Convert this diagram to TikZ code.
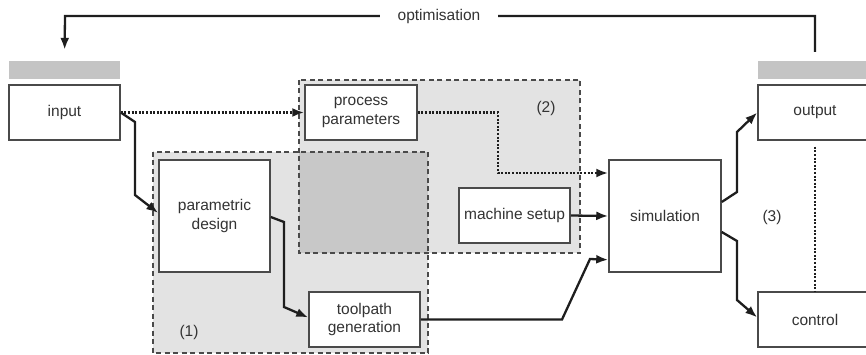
\documentclass[tikz,border=0pt]{standalone}
\usepackage{fontspec}
\setmainfont{Liberation Sans}
\usetikzlibrary{arrows.meta}
\definecolor{txt}{HTML}{333333}
\definecolor{ink}{HTML}{1E1E1E}
\definecolor{edge}{HTML}{4A4A4A}
\definecolor{zone}{HTML}{E3E3E3}
\definecolor{zonedark}{HTML}{C8C8C8}
\definecolor{barfill}{HTML}{C4C4C4}
\tikzset{
  box/.style={draw=edge, line width=1.5pt, fill=white, text=txt, align=center,
    inner sep=0pt, font=\fontsize{15.5}{18.5}\selectfont},
  bar/.style={fill=barfill, draw=none, inner sep=0pt},
  zoneborder/.style={draw=edge, line width=1.4pt, dash pattern=on 5pt off 3.5pt},
  flow/.style={draw=ink, line width=2.3pt, -{Latex[length=12pt,width=9pt]}},
  dotflow/.style={draw=ink, line width=2.3pt, dash pattern=on 2pt off 1.6pt,
    -{Latex[length=12pt,width=9pt]}},
  lbl/.style={text=txt, font=\fontsize{15.5}{18.5}\selectfont, inner sep=1pt}
}
\begin{document}
\begin{tikzpicture}[x=1pt,y=-1pt]
\useasboundingbox (0,0) rectangle (866,355);

% shaded zones (1) and (2) with their overlap
\fill[zone] (299,80) rectangle (580,253);
\fill[zone] (153,152) rectangle (428,353);
\fill[zonedark] (299,152) rectangle (428,253);
\draw[zoneborder] (299,80) rectangle (580,253);
\draw[zoneborder] (153,152) rectangle (428,353);

% nodes
\node[bar] (inbar) at (64.5,70) [minimum width=111pt, minimum height=18pt] {};
\node[box] (input) at (64.5,112.5) [minimum width=111pt, minimum height=55pt] {input};
\node[bar] (outbar) at (815,70) [minimum width=114pt, minimum height=18pt] {};
\node[box] (output) at (815,112.5) [minimum width=114pt, minimum height=55pt] {output};
\node[box] (control) at (815,319.5) [minimum width=114pt, minimum height=55pt] {control};
\node[box] (params) at (361,112.5) [minimum width=112pt, minimum height=55pt] {process\\parameters};
\node[box] (design) at (214.5,216) [minimum width=111pt, minimum height=112pt] {parametric\\design};
\node[box] (toolpath) at (364.5,319.5) [minimum width=111pt, minimum height=55pt] {toolpath\\generation};
\node[box] (machine) at (514.5,215.5) [minimum width=111pt, minimum height=55pt] {machine setup};
\node[box] (sim) at (665,216) [minimum width=112pt, minimum height=112pt] {simulation};

% zone labels
\node[lbl] (z1) at (189,332) {(1)};
\node[lbl] (z2) at (546,108) {(2)};
\node[lbl] (z3) at (772,217) {(3)};

% solid flows
\draw[flow] (input.east) -- (135,122) -- (135,195) -- ([yshift=3pt]design.west);
\draw[flow] ([yshift=-1pt]design.east) -- (284,222) -- (284,307) -- ([yshift=2pt]toolpath.west);
\draw[flow] (toolpath.east) -- (562,319.5) -- (590,259) -- ([yshift=13pt]sim.south west);
\draw[flow] (machine.east) -- (sim.west);
\draw[flow] ([yshift=14pt]sim.east) -- (737,192) -- (737,132) -- (output.west);
\draw[flow] ([yshift=-16pt]sim.east) -- (737,241) -- (737,300) -- ([yshift=2pt]control.west);

% dotted flows
\draw[dotflow] (input.east) -- (params.west);
\draw[dotflow] (params.east) -- (498,112.5) -- (498,173) -- ([yshift=43pt]sim.west);
\draw[ink, line width=2.3pt, dash pattern=on 2pt off 1.6pt, shorten <=6pt]
  (output.south) -- (control.north);

% optimisation loop
\coordinate (loopR) at (815,16);
\coordinate (loopL) at (65,16);
\draw[flow, shorten <=9pt, shorten >=11pt] (outbar.north) -- (loopR) -- (loopL) -- (inbar.north);
\node[lbl, fill=white, inner xsep=18pt] (opt) at (439,16) {optimisation};
\end{tikzpicture}
\end{document}
